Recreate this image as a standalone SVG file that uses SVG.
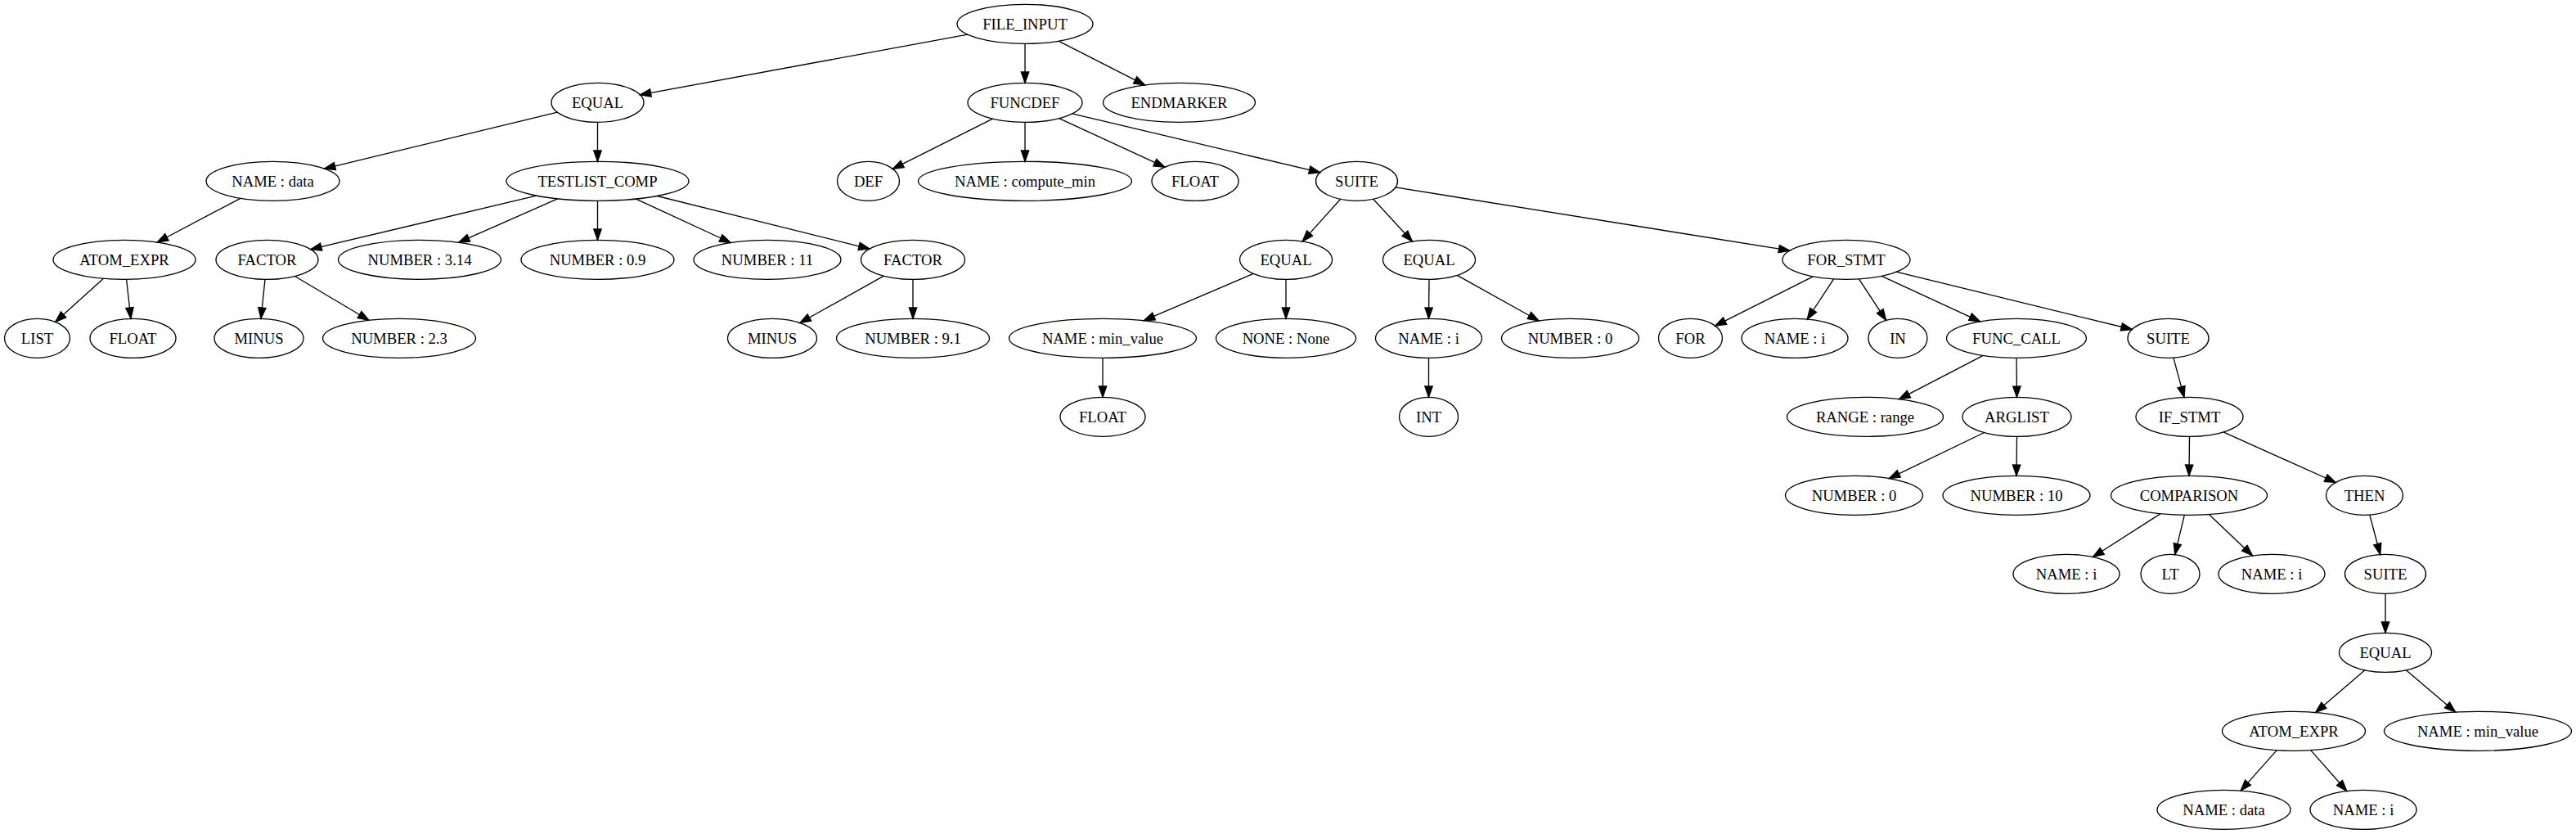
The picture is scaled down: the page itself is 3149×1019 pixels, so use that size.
<svg xmlns="http://www.w3.org/2000/svg" width="3149" height="1019" viewBox="0 0 3149 1019">
<style>
.node ellipse{fill:none;stroke:#000;stroke-width:1.33}
.node text{font-family:"Liberation Serif","Times New Roman",serif;font-size:18.67px;text-anchor:middle;fill:#000}
.edges line{stroke:#000;stroke-width:1.33;marker-end:url(#arr)}
</style>
<defs>
<marker id="arr" markerUnits="userSpaceOnUse" markerWidth="16" markerHeight="12" refX="13.3" refY="4.67" orient="auto" style="overflow:visible">
<path d="M0,0 L13.3,4.67 L0,9.33 Z" fill="#000" stroke="#000" stroke-width="1.33"/>
</marker>
</defs>
<rect width="3149" height="1019" fill="#fff"/>
<g id="edges" class="edges">
<line x1="1182.9" y1="42.2" x2="782.4" y2="115.8"/>
<line x1="1253" y1="53.3" x2="1253" y2="101.3"/>
<line x1="1294.0" y1="50.2" x2="1399.5" y2="103.9"/>
<line x1="681.4" y1="137.2" x2="396.5" y2="206.1"/>
<line x1="730.5" y1="149.3" x2="730.5" y2="197.3"/>
<line x1="1213.5" y1="145.1" x2="1091.3" y2="206.4"/>
<line x1="1253" y1="149.3" x2="1253" y2="197.3"/>
<line x1="1294.7" y1="144.6" x2="1423.9" y2="204.2"/>
<line x1="1310.6" y1="138.9" x2="1613.7" y2="210.7"/>
<line x1="293.9" y1="242.3" x2="192.2" y2="296.0"/>
<line x1="655.6" y1="239.1" x2="379.7" y2="304.7"/>
<line x1="681.6" y1="242.9" x2="560.7" y2="296.2"/>
<line x1="730.5" y1="245.3" x2="730.5" y2="293.3"/>
<line x1="777.5" y1="243.1" x2="893.1" y2="296.5"/>
<line x1="803.4" y1="239.5" x2="1063.0" y2="304.1"/>
<line x1="1638.7" y1="243.3" x2="1592.2" y2="294.9"/>
<line x1="1678.7" y1="243.2" x2="1726.4" y2="295.0"/>
<line x1="1705.9" y1="228.9" x2="2187.8" y2="306.2"/>
<line x1="126.5" y1="340.3" x2="67.7" y2="393.3"/>
<line x1="154.6" y1="341.3" x2="159.9" y2="389.3"/>
<line x1="324.0" y1="341.3" x2="319.0" y2="389.3"/>
<line x1="360.4" y1="337.5" x2="450.9" y2="391.3"/>
<line x1="1080.4" y1="337.2" x2="977.8" y2="394.5"/>
<line x1="1116" y1="341.3" x2="1116" y2="389.3"/>
<line x1="1532.2" y1="334.3" x2="1398.3" y2="391.7"/>
<line x1="1572" y1="341.3" x2="1572" y2="389.3"/>
<line x1="1747" y1="341.3" x2="1746.5" y2="389.3"/>
<line x1="1781.3" y1="336.4" x2="1881.1" y2="392.0"/>
<line x1="2216.4" y1="337.8" x2="2096.7" y2="398.1"/>
<line x1="2241.6" y1="340.8" x2="2209.3" y2="390.0"/>
<line x1="2272.4" y1="340.8" x2="2305.6" y2="391.3"/>
<line x1="2300.3" y1="337.3" x2="2420.6" y2="392.8"/>
<line x1="2318.1" y1="332.2" x2="2606.3" y2="402.5"/>
<line x1="1348" y1="437.3" x2="1348" y2="485.3"/>
<line x1="1746.5" y1="437.3" x2="1746.5" y2="485.3"/>
<line x1="2424.3" y1="434.4" x2="2321.6" y2="487.7"/>
<line x1="2465" y1="437.3" x2="2465.5" y2="485.3"/>
<line x1="2656.9" y1="437.1" x2="2670.0" y2="485.4"/>
<line x1="2425.7" y1="528.5" x2="2309.3" y2="584.7"/>
<line x1="2465.5" y1="533.3" x2="2465" y2="581.3"/>
<line x1="2676.5" y1="533.3" x2="2676" y2="581.3"/>
<line x1="2717.9" y1="527.9" x2="2855.2" y2="589.5"/>
<line x1="2641.1" y1="627.6" x2="2558.5" y2="680.5"/>
<line x1="2670.3" y1="629.3" x2="2658.7" y2="677.6"/>
<line x1="2700.4" y1="628.5" x2="2753.5" y2="678.9"/>
<line x1="2896.8" y1="629.1" x2="2909.7" y2="677.5"/>
<line x1="2916" y1="725.3" x2="2916" y2="773.3"/>
<line x1="2890.9" y1="818.8" x2="2830.7" y2="870.4"/>
<line x1="2941.3" y1="818.8" x2="3001.6" y2="870.0"/>
<line x1="2783.2" y1="916.6" x2="2739.2" y2="966.1"/>
<line x1="2824.7" y1="916.6" x2="2868.8" y2="966.5"/>
</g>
<g id="n0" class="node"><ellipse cx="1253" cy="29.3" rx="83" ry="24"/><text x="1253" y="35.8">FILE_INPUT</text></g>
<g id="n1" class="node"><ellipse cx="730.5" cy="125.3" rx="56.5" ry="24"/><text x="730.5" y="131.8">EQUAL</text></g>
<g id="n2" class="node"><ellipse cx="1253" cy="125.3" rx="70" ry="24"/><text x="1253" y="131.8">FUNCDEF</text></g>
<g id="n3" class="node"><ellipse cx="1441.5" cy="125.3" rx="93" ry="24"/><text x="1441.5" y="131.8">ENDMARKER</text></g>
<g id="n4" class="node"><ellipse cx="333.5" cy="221.3" rx="81.5" ry="24"/><text x="333.5" y="227.8">NAME : data</text></g>
<g id="n5" class="node"><ellipse cx="730.5" cy="221.3" rx="111.5" ry="24"/><text x="730.5" y="227.8">TESTLIST_COMP</text></g>
<g id="n6" class="node"><ellipse cx="1061.5" cy="221.3" rx="38" ry="24"/><text x="1061.5" y="227.8">DEF</text></g>
<g id="n7" class="node"><ellipse cx="1253" cy="221.3" rx="130.5" ry="24"/><text x="1253" y="227.8">NAME : compute_min</text></g>
<g id="n8" class="node"><ellipse cx="1461" cy="221.3" rx="53" ry="24"/><text x="1461" y="227.8">FLOAT</text></g>
<g id="n9" class="node"><ellipse cx="1658.5" cy="221.3" rx="50" ry="24"/><text x="1658.5" y="227.8">SUITE</text></g>
<g id="n10" class="node"><ellipse cx="152" cy="317.3" rx="87" ry="24"/><text x="152" y="323.8">ATOM_EXPR</text></g>
<g id="n11" class="node"><ellipse cx="326.5" cy="317.3" rx="62.5" ry="24"/><text x="326.5" y="323.8">FACTOR</text></g>
<g id="n12" class="node"><ellipse cx="513" cy="317.3" rx="99.5" ry="24"/><text x="513" y="323.8">NUMBER : 3.14</text></g>
<g id="n13" class="node"><ellipse cx="730.5" cy="317.3" rx="93.5" ry="24"/><text x="730.5" y="323.8">NUMBER : 0.9</text></g>
<g id="n14" class="node"><ellipse cx="938" cy="317.3" rx="90" ry="24"/><text x="938" y="323.8">NUMBER : 11</text></g>
<g id="n15" class="node"><ellipse cx="1116" cy="317.3" rx="63.5" ry="24"/><text x="1116" y="323.8">FACTOR</text></g>
<g id="n16" class="node"><ellipse cx="1572" cy="317.3" rx="56.5" ry="24"/><text x="1572" y="323.8">EQUAL</text></g>
<g id="n17" class="node"><ellipse cx="1747" cy="317.3" rx="56.5" ry="24"/><text x="1747" y="323.8">EQUAL</text></g>
<g id="n18" class="node"><ellipse cx="2257" cy="317.3" rx="78" ry="24"/><text x="2257" y="323.8">FOR_STMT</text></g>
<g id="n19" class="node"><ellipse cx="45.5" cy="413.3" rx="40" ry="24"/><text x="45.5" y="419.8">LIST</text></g>
<g id="n20" class="node"><ellipse cx="162.5" cy="413.3" rx="52.5" ry="24"/><text x="162.5" y="419.8">FLOAT</text></g>
<g id="n21" class="node"><ellipse cx="316.5" cy="413.3" rx="54.5" ry="24"/><text x="316.5" y="419.8">MINUS</text></g>
<g id="n22" class="node"><ellipse cx="488" cy="413.3" rx="93.5" ry="24"/><text x="488" y="419.8">NUMBER : 2.3</text></g>
<g id="n23" class="node"><ellipse cx="944" cy="413.3" rx="54.5" ry="24"/><text x="944" y="419.8">MINUS</text></g>
<g id="n24" class="node"><ellipse cx="1116" cy="413.3" rx="93.5" ry="24"/><text x="1116" y="419.8">NUMBER : 9.1</text></g>
<g id="n25" class="node"><ellipse cx="1348" cy="413.3" rx="114.5" ry="24"/><text x="1348" y="419.8">NAME : min_value</text></g>
<g id="n26" class="node"><ellipse cx="1572" cy="413.3" rx="85.5" ry="24"/><text x="1572" y="419.8">NONE : None</text></g>
<g id="n27" class="node"><ellipse cx="1746.5" cy="413.3" rx="65" ry="24"/><text x="1746.5" y="419.8">NAME : i</text></g>
<g id="n28" class="node"><ellipse cx="1919.5" cy="413.3" rx="84" ry="24"/><text x="1919.5" y="419.8">NUMBER : 0</text></g>
<g id="n29" class="node"><ellipse cx="2066.5" cy="413.3" rx="39" ry="24"/><text x="2066.5" y="419.8">FOR</text></g>
<g id="n30" class="node"><ellipse cx="2194" cy="413.3" rx="65" ry="24"/><text x="2194" y="419.8">NAME : i</text></g>
<g id="n31" class="node"><ellipse cx="2320" cy="413.3" rx="36" ry="24"/><text x="2320" y="419.8">IN</text></g>
<g id="n32" class="node"><ellipse cx="2465" cy="413.3" rx="85.5" ry="24"/><text x="2465" y="419.8">FUNC_CALL</text></g>
<g id="n33" class="node"><ellipse cx="2650.5" cy="413.3" rx="49.5" ry="24"/><text x="2650.5" y="419.8">SUITE</text></g>
<g id="n34" class="node"><ellipse cx="1348" cy="509.3" rx="52" ry="24"/><text x="1348" y="515.8">FLOAT</text></g>
<g id="n35" class="node"><ellipse cx="1746.5" cy="509.3" rx="36" ry="24"/><text x="1746.5" y="515.8">INT</text></g>
<g id="n36" class="node"><ellipse cx="2280" cy="509.3" rx="95.5" ry="24"/><text x="2280" y="515.8">RANGE : range</text></g>
<g id="n37" class="node"><ellipse cx="2465.5" cy="509.3" rx="66.5" ry="24"/><text x="2465.5" y="515.8">ARGLIST</text></g>
<g id="n38" class="node"><ellipse cx="2676.5" cy="509.3" rx="65.5" ry="24"/><text x="2676.5" y="515.8">IF_STMT</text></g>
<g id="n39" class="node"><ellipse cx="2266.5" cy="605.3" rx="84" ry="24"/><text x="2266.5" y="611.8">NUMBER : 0</text></g>
<g id="n40" class="node"><ellipse cx="2465" cy="605.3" rx="90" ry="24"/><text x="2465" y="611.8">NUMBER : 10</text></g>
<g id="n41" class="node"><ellipse cx="2676" cy="605.3" rx="95.5" ry="24"/><text x="2676" y="611.8">COMPARISON</text></g>
<g id="n42" class="node"><ellipse cx="2890.5" cy="605.3" rx="47" ry="24"/><text x="2890.5" y="611.8">THEN</text></g>
<g id="n43" class="node"><ellipse cx="2526" cy="701.3" rx="65" ry="24"/><text x="2526" y="707.8">NAME : i</text></g>
<g id="n44" class="node"><ellipse cx="2653" cy="701.3" rx="36" ry="24"/><text x="2653" y="707.8">LT</text></g>
<g id="n45" class="node"><ellipse cx="2777" cy="701.3" rx="65" ry="24"/><text x="2777" y="707.8">NAME : i</text></g>
<g id="n46" class="node"><ellipse cx="2916" cy="701.3" rx="49.5" ry="24"/><text x="2916" y="707.8">SUITE</text></g>
<g id="n47" class="node"><ellipse cx="2916" cy="797.3" rx="56.5" ry="24"/><text x="2916" y="803.8">EQUAL</text></g>
<g id="n48" class="node"><ellipse cx="2804" cy="893.3" rx="87.5" ry="24"/><text x="2804" y="899.8">ATOM_EXPR</text></g>
<g id="n49" class="node"><ellipse cx="3029" cy="893.3" rx="114.5" ry="24"/><text x="3029" y="899.8">NAME : min_value</text></g>
<g id="n50" class="node"><ellipse cx="2718.5" cy="989.3" rx="81.5" ry="24"/><text x="2718.5" y="995.8">NAME : data</text></g>
<g id="n51" class="node"><ellipse cx="2889" cy="989.3" rx="65" ry="24"/><text x="2889" y="995.8">NAME : i</text></g>
</svg>
